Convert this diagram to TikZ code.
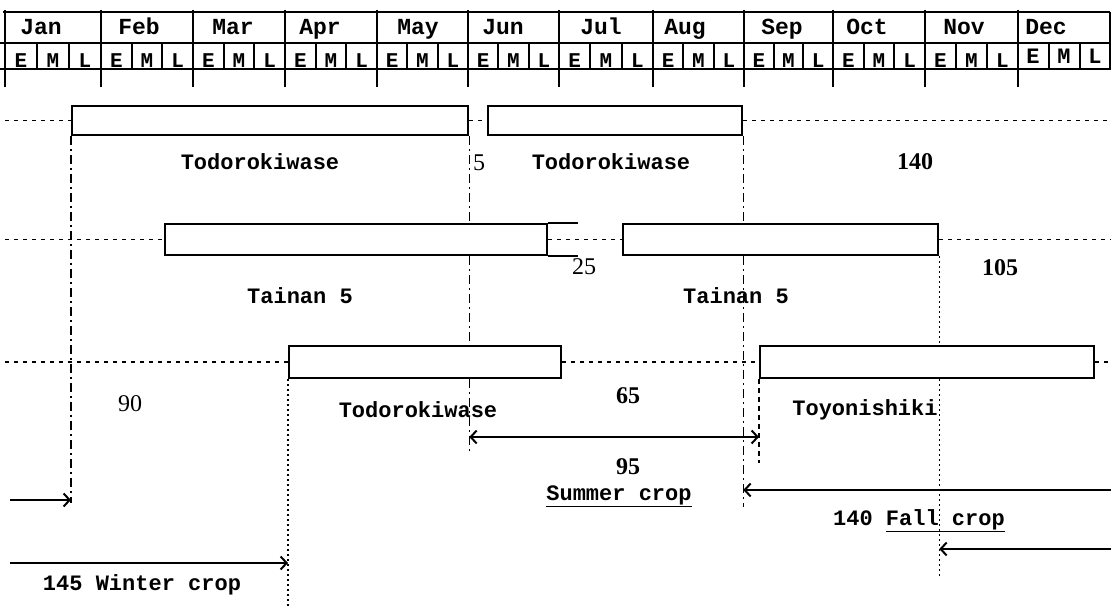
\documentclass[tikz,border=0pt]{standalone}
\usepackage{fontspec}
\newfontfamily\tw{Liberation Mono}
\newfontfamily\ser{Liberation Serif}
\usetikzlibrary{arrows.meta}
\begin{document}
\begin{tikzpicture}[x=1pt,y=-1pt,
  bar/.style={draw, line width=2.3pt, rectangle, inner sep=0pt, anchor=north west},
  barline/.style={line width=2.3pt},
  conn/.style={line width=1.6pt, dash pattern=on 4pt off 5pt},
  vdd/.style={line width=1.5pt, dash pattern=on 9pt off 4pt on 2pt off 4pt},
  vdot/.style={line width=1.5pt, dash pattern=on 2pt off 3pt},
  vdash/.style={line width=1.5pt, dash pattern=on 5pt off 4pt},
  tip/.tip={Straight Barb[length=6pt,width=13pt,line width=2pt]},
  arr/.style={line width=2pt, -tip},
  arr2/.style={line width=2pt, tip-tip},
  grid/.style={line width=1.8pt},
  lab/.style={font=\tw\bfseries\fontsize{22}{24}\selectfont, inner sep=0pt},
  mon/.style={font=\tw\bfseries\fontsize{23}{24}\selectfont, inner sep=0pt, anchor=base},
  eml/.style={font=\tw\bfseries\fontsize{21}{22}\selectfont, inner sep=0pt, anchor=base},
  num/.style={font=\ser\fontsize{24}{26}\selectfont, inner sep=0pt},
  bnum/.style={font=\ser\bfseries\fontsize{24}{26}\selectfont, inner sep=0pt}
]
\useasboundingbox (0,0) rectangle (1111,607);

% ---------- header table ----------
\draw[grid] (3,12) -- (1110,12);
\draw[grid] (0,43) -- (1111,43);
\draw[grid] (0,69) -- (1111,69);
\foreach \x in {5,101,193,285,377,468,559,653,744,833,925,1018}
  \draw[grid] (\x,10) -- (\x,87);
\draw[grid] (1110,12) -- (1110,69);
\foreach \a/\b/\i in {5/101/1,101/193/2,193/285/3,285/377/4,377/468/5,468/559/6,559/653/7,653/744/8,744/833/9,833/925/10,925/1018/11}{
  \pgfmathsetmacro\da{\a+(\b-\a)/3}
  \pgfmathsetmacro\db{\a+2*(\b-\a)/3}
  \pgfmathsetmacro\la{\a+(\b-\a)/6}
  \pgfmathsetmacro\lb{\a+(\b-\a)/2}
  \pgfmathsetmacro\lc{\a+5*(\b-\a)/6}
  \draw[grid] (\da,43) -- (\da,69);
  \draw[grid] (\db,43) -- (\db,69);
  \node[eml] (e\i) at (\la,68) {E};
  \node[eml] (m\i) at (\lb,68) {M};
  \node[eml] (l\i) at (\lc,68) {L};
}
% December
\draw[grid] (1049,43) -- (1049,69);
\draw[grid] (1080,43) -- (1080,69);
\node[eml, font=\tw\bfseries\fontsize{22}{22}\selectfont] (e12) at (1033,64) {E};
\node[eml, font=\tw\bfseries\fontsize{22}{22}\selectfont] (m12) at (1064,64) {M};
\node[eml, font=\tw\bfseries\fontsize{22}{22}\selectfont] (l12) at (1095,64) {L};

\foreach \n/\x in {Jan/41,Feb/139,Mar/233,Apr/320,May/418,Jun/503,Jul/601,Aug/685,Sep/782,Oct/867,Nov/964,Dec/1046}
  \node[mon] (mon\n) at (\x,35) {\n};

% ---------- reference x ----------
\coordinate (Lx) at (5,0);
\coordinate (Rx) at (1111,0);

% ---------- bars ----------
\node[bar, minimum width=396pt, minimum height=29pt] (b11) at (71,105) {};
\node[bar, minimum width=254pt, minimum height=29pt] (b12) at (487,105) {};
\node[bar, minimum width=382pt, minimum height=31pt] (b21) at (164,223) {};
\node[bar, minimum width=315pt, minimum height=31pt] (b22) at (622,223) {};
\node[bar, minimum width=272pt, minimum height=32pt] (b31) at (288,345) {};
\node[bar, minimum width=334pt, minimum height=32pt] (b32) at (759,345) {};
\draw[barline] (b21.north east) -- ++(30,0);
\draw[barline] (b21.south east) -- ++(30,0);

% ---------- horizontal connectors ----------
\draw[conn] (b11.west -| Lx) -- (b11.west);
\draw[conn] (b11.east) -- (b12.west);
\draw[conn] (b12.east) -- (b12.east -| Rx);
\draw[conn] (b21.west -| Lx) -- (b21.west);
\draw[conn] (b21.east) -- (b22.west);
\draw[conn] (b22.east) -- (b22.east -| Rx);
\draw[conn] (b31.west -| Lx) -- (b31.west);
\draw[conn] (b31.east) -- (b32.west);
\draw[conn] (b32.east) -- (b32.east -| Rx);

% ---------- vertical guide lines ----------
\draw[vdd] (b11.south west) -- (b11.south west |- 0,503);
\draw[vdd] (b11.south east) -- (b11.south east |- b21.north);
\draw[vdd] (b11.south east |- b21.south) -- (b11.south east |- b31.north);
\draw[vdd] (b11.south east |- b31.south) -- (b11.south east |- 0,452);
\draw[vdd] (b12.south east) -- (b12.south east |- b22.north);
\draw[vdd] (b12.south east |- b22.south) -- (b12.south east |- 0,507);
\draw[vdot] (b22.south east) -- (b22.south east |- b32.north);
\draw[vdot] (b22.south east |- b32.south) -- (b22.south east |- 0,578);
\draw[vdot] (b31.south west) -- (b31.south west |- 0,607);
\draw[vdash] (b32.south west) -- (b32.south west |- 0,463);

% ---------- arrows ----------
\coordinate (a1s) at (10,500);
\coordinate (a1e) at (b11.south west |- a1s);
\draw[arr] (a1s) -- (a1e);
\coordinate (a2s) at (b11.south east |- 0,437);
\coordinate (a2e) at (b32.south west |- 0,437);
\draw[arr2] (a2s) -- (a2e);
\coordinate (a3s) at (1111,490);
\coordinate (a3e) at (b12.south east |- a3s);
\draw[arr] (a3s) -- (a3e);
\coordinate (a4s) at (1111,549);
\coordinate (a4e) at (b22.south east |- a4s);
\draw[arr] (a4s) -- (a4e);
\coordinate (a5s) at (10,563);
\coordinate (a5e) at (b31.south west |- a5s);
\draw[arr] (a5s) -- (a5e);

% ---------- labels ----------
\node[lab] (t1) at (260,162) {Todorokiwase};
\node[num] (n5) at (479,163) {5};
\node[lab] (t2) at (611,162) {Todorokiwase};
\node[bnum] (n140) at (915,162) {140};
\node[lab] (t3) at (300,296) {Tainan 5};
\node[num] (n25) at (584,267) {25};
\node[lab] (t4) at (736,296) {Tainan 5};
\node[bnum] (n105) at (1000,268) {105};
\node[num] (n90) at (130,404) {90};
\node[lab] (t5) at (418,410) {Todorokiwase};
\node[bnum] (n65) at (628,396) {65};
\node[lab] (t6) at (865,410) {Toyonishiki};
\node[bnum] (n95) at (628,467) {95};
\node[lab] (t7) at (619,496) {\underline{Summer crop}};
\node[lab] (t8) at (919,521) {140 \underline{Fall crop}};
\node[lab] (t9) at (142,585) {145 Winter crop};
\end{tikzpicture}
\end{document}
